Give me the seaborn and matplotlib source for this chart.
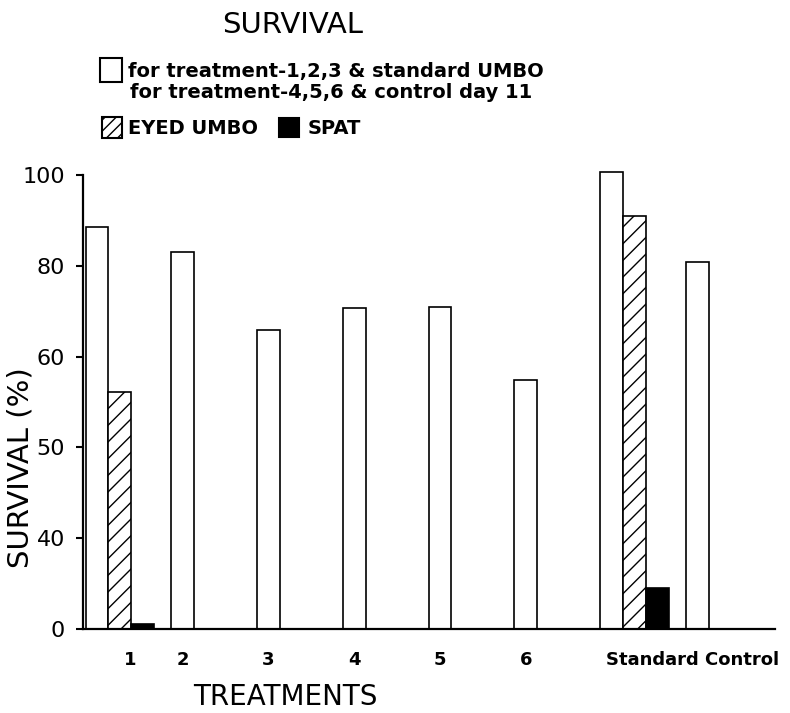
import numpy as np
import pandas as pd
import matplotlib
matplotlib.use('Agg')
import matplotlib.pyplot as plt
import seaborn as sns
from matplotlib.patches import Rectangle

# data
groups = ["1", "2", "3", "4", "5", "6", "Standard", "Control"]
umbo_day11 = [88.5, 83.0, 65.9, 70.7, 70.9, 54.8, 100.7, 80.8]
eyed_umbo = [52.2, 0, 0, 0, 0, 0, 91.0, 0]
spat = [1.1, 0, 0, 0, 0, 0, 9.0, 0]
series = ["UMBO / day 11", "EYED UMBO", "SPAT"]
xtick_labels = ["1", "2", "3", "4", "5", "6", "Standard Control"]
ytick_vals = [0, 20, 40, 60, 80, 100]
ytick_labels = ["0", "40", "50", "60", "80", "100"]

rows = []
for s, vals in zip(series, [umbo_day11, eyed_umbo, spat]):
    for g, v in zip(groups, vals):
        rows.append({"group": g, "series": s, "value": v})
df = pd.DataFrame(rows)

sns.set_style("ticks")
plt.rcParams['font.family'] = ['DejaVu Sans']
for k in ["text.color", "axes.labelcolor", "xtick.color", "ytick.color", "axes.edgecolor"]:
    plt.rcParams[k] = "black"

fig = plt.figure(figsize=(7.9, 7.13), dpi=100)
ax = fig.add_axes([83/790, 1-629/713, (775-83)/790, (629-168.2)/713])

sns.barplot(data=df, x="group", y="value", hue="series", order=groups,
            hue_order=series, palette=["white", "white", "black"],
            saturation=1, edgecolor="black", linewidth=1.2, width=0.8,
            legend=False, ax=ax)
for bar in ax.containers[1]:
    bar.set_hatch("//")

ax.set_xlim(-0.43, 7.64)
ax.set_ylim(0, 101.5)
ax.set_yticks(ytick_vals)
ax.set_yticklabels(ytick_labels, fontsize=16)
ax.set_xticks([0.12] + [i - 0.267 for i in range(1, 6)] + [6.68])
ax.set_xticklabels(xtick_labels, fontsize=13, fontweight="bold")
ax.tick_params(axis="x", length=0, pad=16)
ax.tick_params(axis="y", length=5, width=1.5, pad=8)

sns.despine(ax=ax)
ax.spines["left"].set_bounds(0, 100)
for sp in ["left", "bottom"]:
    ax.spines[sp].set_linewidth(1.6)

ax.set_ylabel("SURVIVAL (%)", fontsize=21)
ax.yaxis.set_label_coords(-0.07, 0.35)
ax.set_xlabel("TREATMENTS", fontsize=20, va="top")
ax.xaxis.set_label_coords(0.292, -0.118)

# title and legend block
fig.text(293/790, 1-25/713, "SURVIVAL", fontsize=21, ha="center", va="center")
fig.text(128/790, 1-71/713, "for treatment-1,2,3 & standard UMBO",
         fontsize=14, fontweight="bold", ha="left", va="center")
fig.text(130/790, 1-92/713, "for treatment-4,5,6 & control day 11",
         fontsize=14, fontweight="bold", ha="left", va="center")
fig.text(128/790, 1-128/713, "EYED UMBO", fontsize=14, fontweight="bold",
         ha="left", va="center")
fig.text(308/790, 1-128/713, "SPAT", fontsize=14, fontweight="bold",
         ha="left", va="center")

fig.patches.append(Rectangle((100/790, 1-82/713), 22/790, 24/713,
                             transform=fig.transFigure, facecolor="white",
                             edgecolor="black", linewidth=1.5))
fig.patches.append(Rectangle((102/790, 1-138/713), 20/790, 21/713,
                             transform=fig.transFigure, facecolor="white",
                             edgecolor="black", linewidth=1.5, hatch="///"))
fig.patches.append(Rectangle((279/790, 1-137/713), 20/790, 19/713,
                             transform=fig.transFigure, facecolor="black",
                             edgecolor="black", linewidth=1.5))

fig.savefig("out.png", dpi=100)
